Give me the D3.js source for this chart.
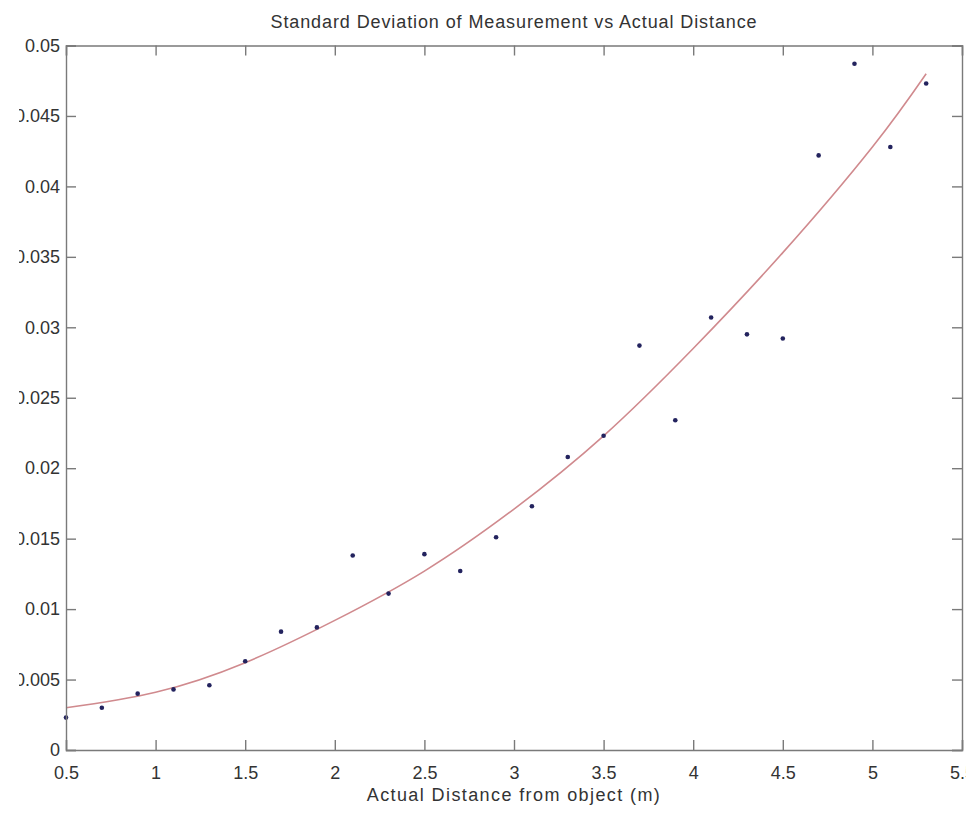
<!DOCTYPE html>
<html>
<head>
<meta charset="utf-8">
<script src="https://cdn.jsdelivr.net/npm/d3@7"></script>
<style>
  body { margin: 0; background: #fff; }
  svg text { font-family: "Liberation Sans", Arial, sans-serif; fill: #333; }
</style>
</head>
<body>
<div id="chart"></div>
<script>
// measured points (distance in m, std dev)
var distances = [0.5, 0.7, 0.9, 1.1, 1.3, 1.5, 1.7, 1.9, 2.1, 2.3, 2.5, 2.7,
  2.9, 3.1, 3.3, 3.5, 3.7, 3.9, 4.1, 4.3, 4.5, 4.7, 4.9, 5.1, 5.3];
var stdDevs = [0.0023, 0.0030, 0.0040, 0.0043, 0.0046, 0.0063, 0.0084, 0.0087,
  0.0138, 0.0111, 0.0139, 0.0127, 0.0151, 0.0173, 0.0208, 0.0223, 0.0287,
  0.0234, 0.0307, 0.0295, 0.0292, 0.0422, 0.0487, 0.0428, 0.0473];

// fitted curve
var fitX = [0.5, 1.0, 1.5, 2.0, 2.5, 3.0, 3.5, 4.0, 4.5, 5.0, 5.3];
var fitY = [0.0030, 0.0041, 0.0062, 0.0092, 0.0127, 0.0171, 0.0223, 0.0285, 0.0353, 0.0428, 0.0480];

var xTicks = [0.5, 1, 1.5, 2, 2.5, 3, 3.5, 4, 4.5, 5, 5.5];
var yTicks = [0, 0.005, 0.01, 0.015, 0.02, 0.025, 0.03, 0.035, 0.04, 0.045, 0.05];

var W = 966, H = 815;
var margin = { top: 45.5, right: 4, bottom: 65, left: 66 },
  width = W - margin.left - margin.right,
  height = H - margin.top - margin.bottom;

var svg = d3.select("#chart").append("svg")
  .attr("width", W)
  .attr("height", H);

// the reference is cropped so the first digit of the long y labels is cut
svg.append("defs").append("clipPath")
  .attr("id", "ylabclip")
  .append("rect")
  .attr("x", 19).attr("y", 0).attr("width", W).attr("height", H);

var g = svg.append("g")
  .attr("transform", "translate(" + margin.left + "," + margin.top + ")");

var x = d3.scaleLinear().domain([0.5, 5.5]).range([0, width]);
var y = d3.scaleLinear().domain([0, 0.05]).range([height, 0]);

var tickFmt = function (d) { return String(d); };

// ======== Axes (box with inward ticks) ========
var tickLen = 10;

var xAxisB = d3.axisBottom(x).tickValues(xTicks).tickSize(-tickLen).tickPadding(16).tickFormat(tickFmt);
var xAxisT = d3.axisTop(x).tickValues(xTicks).tickSize(-tickLen).tickFormat("");
var yAxisL = d3.axisLeft(y).tickValues(yTicks).tickSize(-tickLen).tickPadding(6).tickFormat(tickFmt);
var yAxisR = d3.axisRight(y).tickValues(yTicks).tickSize(-tickLen).tickFormat("");

g.append("g").attr("class", "axis").attr("transform", "translate(0," + height + ")").call(xAxisB);
g.append("g").attr("class", "axis").call(xAxisT);
g.append("g").attr("class", "axis").attr("transform", "translate(" + width + ",0)").call(yAxisR);

var ylWrap = svg.append("g").attr("clip-path", "url(#ylabclip)");
var yl = ylWrap.append("g").attr("class", "axis")
  .attr("transform", "translate(" + margin.left + "," + margin.top + ")")
  .call(yAxisL);

svg.selectAll(".axis path, .axis line")
  .attr("stroke", "#7a7a7a")
  .attr("stroke-width", 1.4);
svg.selectAll(".axis text")
  .style("font-size", "18px")
  .attr("fill", "#333");

// ======== Fit curve ========
var fitData = fitX.map(function (d, i) { return { x: d, y: fitY[i] }; });

g.append("path")
  .datum(fitData)
  .attr("fill", "none")
  .attr("stroke", "#d08a8e")
  .attr("stroke-width", 1.6)
  .attr("d", d3.line()
    .x(function (d) { return x(d.x); })
    .y(function (d) { return y(d.y); })
    .curve(d3.curveNatural));

// ======== Points ========
var pts = distances.map(function (d, i) { return { x: d, y: stdDevs[i] }; });

g.selectAll(".pt")
  .data(pts)
  .enter().append("circle")
  .attr("class", "pt")
  .attr("cx", function (d) { return x(d.x); })
  .attr("cy", function (d) { return y(d.y); })
  .attr("r", 2.3)
  .attr("fill", "#23235e");

// ======== Titles ========
svg.append("text")
  .attr("x", margin.left + width / 2)
  .attr("y", 28)
  .attr("text-anchor", "middle")
  .style("font-size", "18px")
  .style("letter-spacing", "0.9px")
  .text("Standard Deviation of Measurement vs Actual Distance");

svg.append("text")
  .attr("x", margin.left + width / 2)
  .attr("y", 801)
  .attr("text-anchor", "middle")
  .style("font-size", "18px")
  .style("letter-spacing", "1.4px")
  .text("Actual Distance from object (m)");
</script>
</body>
</html>
